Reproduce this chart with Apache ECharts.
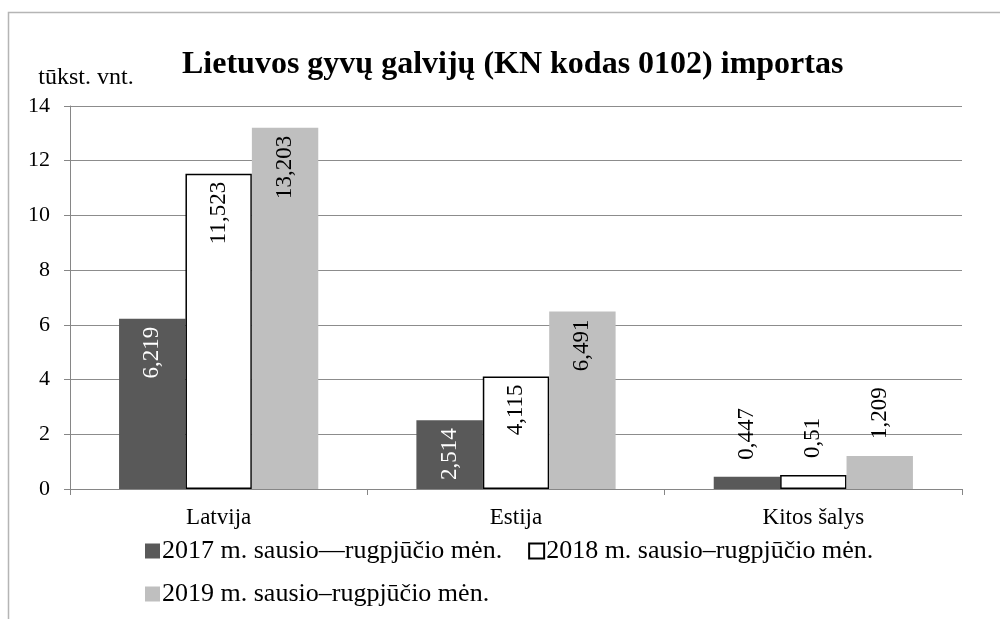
<!DOCTYPE html>
<html>
<head>
<meta charset="utf-8">
<script src="https://cdn.jsdelivr.net/npm/echarts@6/dist/echarts.min.js"></script>
<style>
  html, body { margin: 0; padding: 0; background: #fff; }
  #chart { width: 1000px; height: 619px; }
</style>
</head>
<body>
<div id="chart"></div>
<script>
// duomenys
const categories = ['Latvija', 'Estija', 'Kitos šalys'];
const seriesNames = [
  '2017 m. sausio—rugpjūčio mėn.',
  '2018 m. sausio–rugpjūčio mėn.',
  '2019 m. sausio–rugpjūčio mėn.'
];
const values2017 = [6.219, 2.514, 0.447];
const values2018 = [11.523, 4.115, 0.51];
const values2019 = [13.203, 6.491, 1.209];
const yTicks = [0, 2, 4, 6, 8, 10, 12, 14];

const font = '"Liberation Serif", "Times New Roman", serif';

// stulpelio etiketė: maži stulpeliai - virš, kiti - viduje
function labelFor(v, insideColor) {
  const small = v < 2;
  return {
    show: true,
    rotate: 90,
    position: small ? 'top' : 'insideTop',
    distance: small ? 17 : 8,
    align: small ? 'left' : 'right',
    verticalAlign: 'middle',
    color: small ? '#000' : insideColor,
    fontFamily: font,
    fontSize: 23,
    formatter: p => String(p.value).replace('.', ',')
  };
}

function makeSeries(name, vals, style, insideColor) {
  return {
    name: name,
    type: 'bar',
    barGap: '0%',
    barCategoryGap: '33%',
    itemStyle: style,
    data: vals.map(v => ({ value: v, label: labelFor(v, insideColor) }))
  };
}

// legenda dviem eilutėmis
function legendRow(top, names) {
  return {
    left: 145,
    top: top,
    icon: 'rect',
    itemWidth: 15,
    itemHeight: 15,
    itemGap: 26,
    padding: 0,
    textStyle: { fontFamily: font, fontSize: 26, color: '#000', padding: [0, 0, 0, -3] },
    data: names
  };
}

const myChart = echarts.init(document.getElementById('chart'));
const option = {
  backgroundColor: '#fff',
  animation: false,
  title: {
    text: 'Lietuvos gyvų galvijų (KN kodas 0102) importas',
    left: 177,
    top: 44,
    textStyle: { fontFamily: font, fontSize: 32, fontWeight: 'bold', color: '#000' }
  },
  legend: [
    legendRow(538, seriesNames.slice(0, 2)),
    legendRow(581, seriesNames.slice(2))
  ],
  graphic: [{
    type: 'rect',
    shape: { x: 8.5, y: 12.5, width: 1100, height: 800 },
    style: { fill: 'none', stroke: '#b5b5b5', lineWidth: 1.5 },
    silent: true
  }],
  grid: { left: 70, right: 38, top: 106, bottom: 130 },
  xAxis: {
    type: 'category',
    data: categories,
    axisLine: { lineStyle: { color: '#868686' } },
    axisTick: { show: true, length: 6, lineStyle: { color: '#868686' } },
    axisLabel: { fontFamily: font, fontSize: 23, color: '#000', margin: 17 }
  },
  yAxis: {
    type: 'value',
    min: 0,
    max: 14,
    interval: 2,
    name: 'tūkst. vnt.',
    nameLocation: 'end',
    nameGap: 16,
    nameTextStyle: { fontFamily: font, fontSize: 24, color: '#000', align: 'center', padding: [0, 0, 0, 32] },
    axisLine: { show: true, lineStyle: { color: '#868686' } },
    axisTick: { show: true, length: 6, lineStyle: { color: '#868686' } },
    axisLabel: {
      fontFamily: font, fontSize: 22, color: '#000', margin: 20,
      formatter: v => yTicks.includes(v) ? String(v) : ''
    },
    splitLine: { show: true, lineStyle: { color: '#8c8c8c', width: 1 } }
  },
  series: [
    makeSeries(seriesNames[0], values2017, { color: '#595959' }, '#fff'),
    makeSeries(seriesNames[1], values2018, { color: '#fff', borderColor: '#000', borderWidth: 1.5 }, '#000'),
    makeSeries(seriesNames[2], values2019, { color: '#bfbfbf' }, '#000')
  ]
};
option && myChart.setOption(option);
</script>
</body>
</html>
